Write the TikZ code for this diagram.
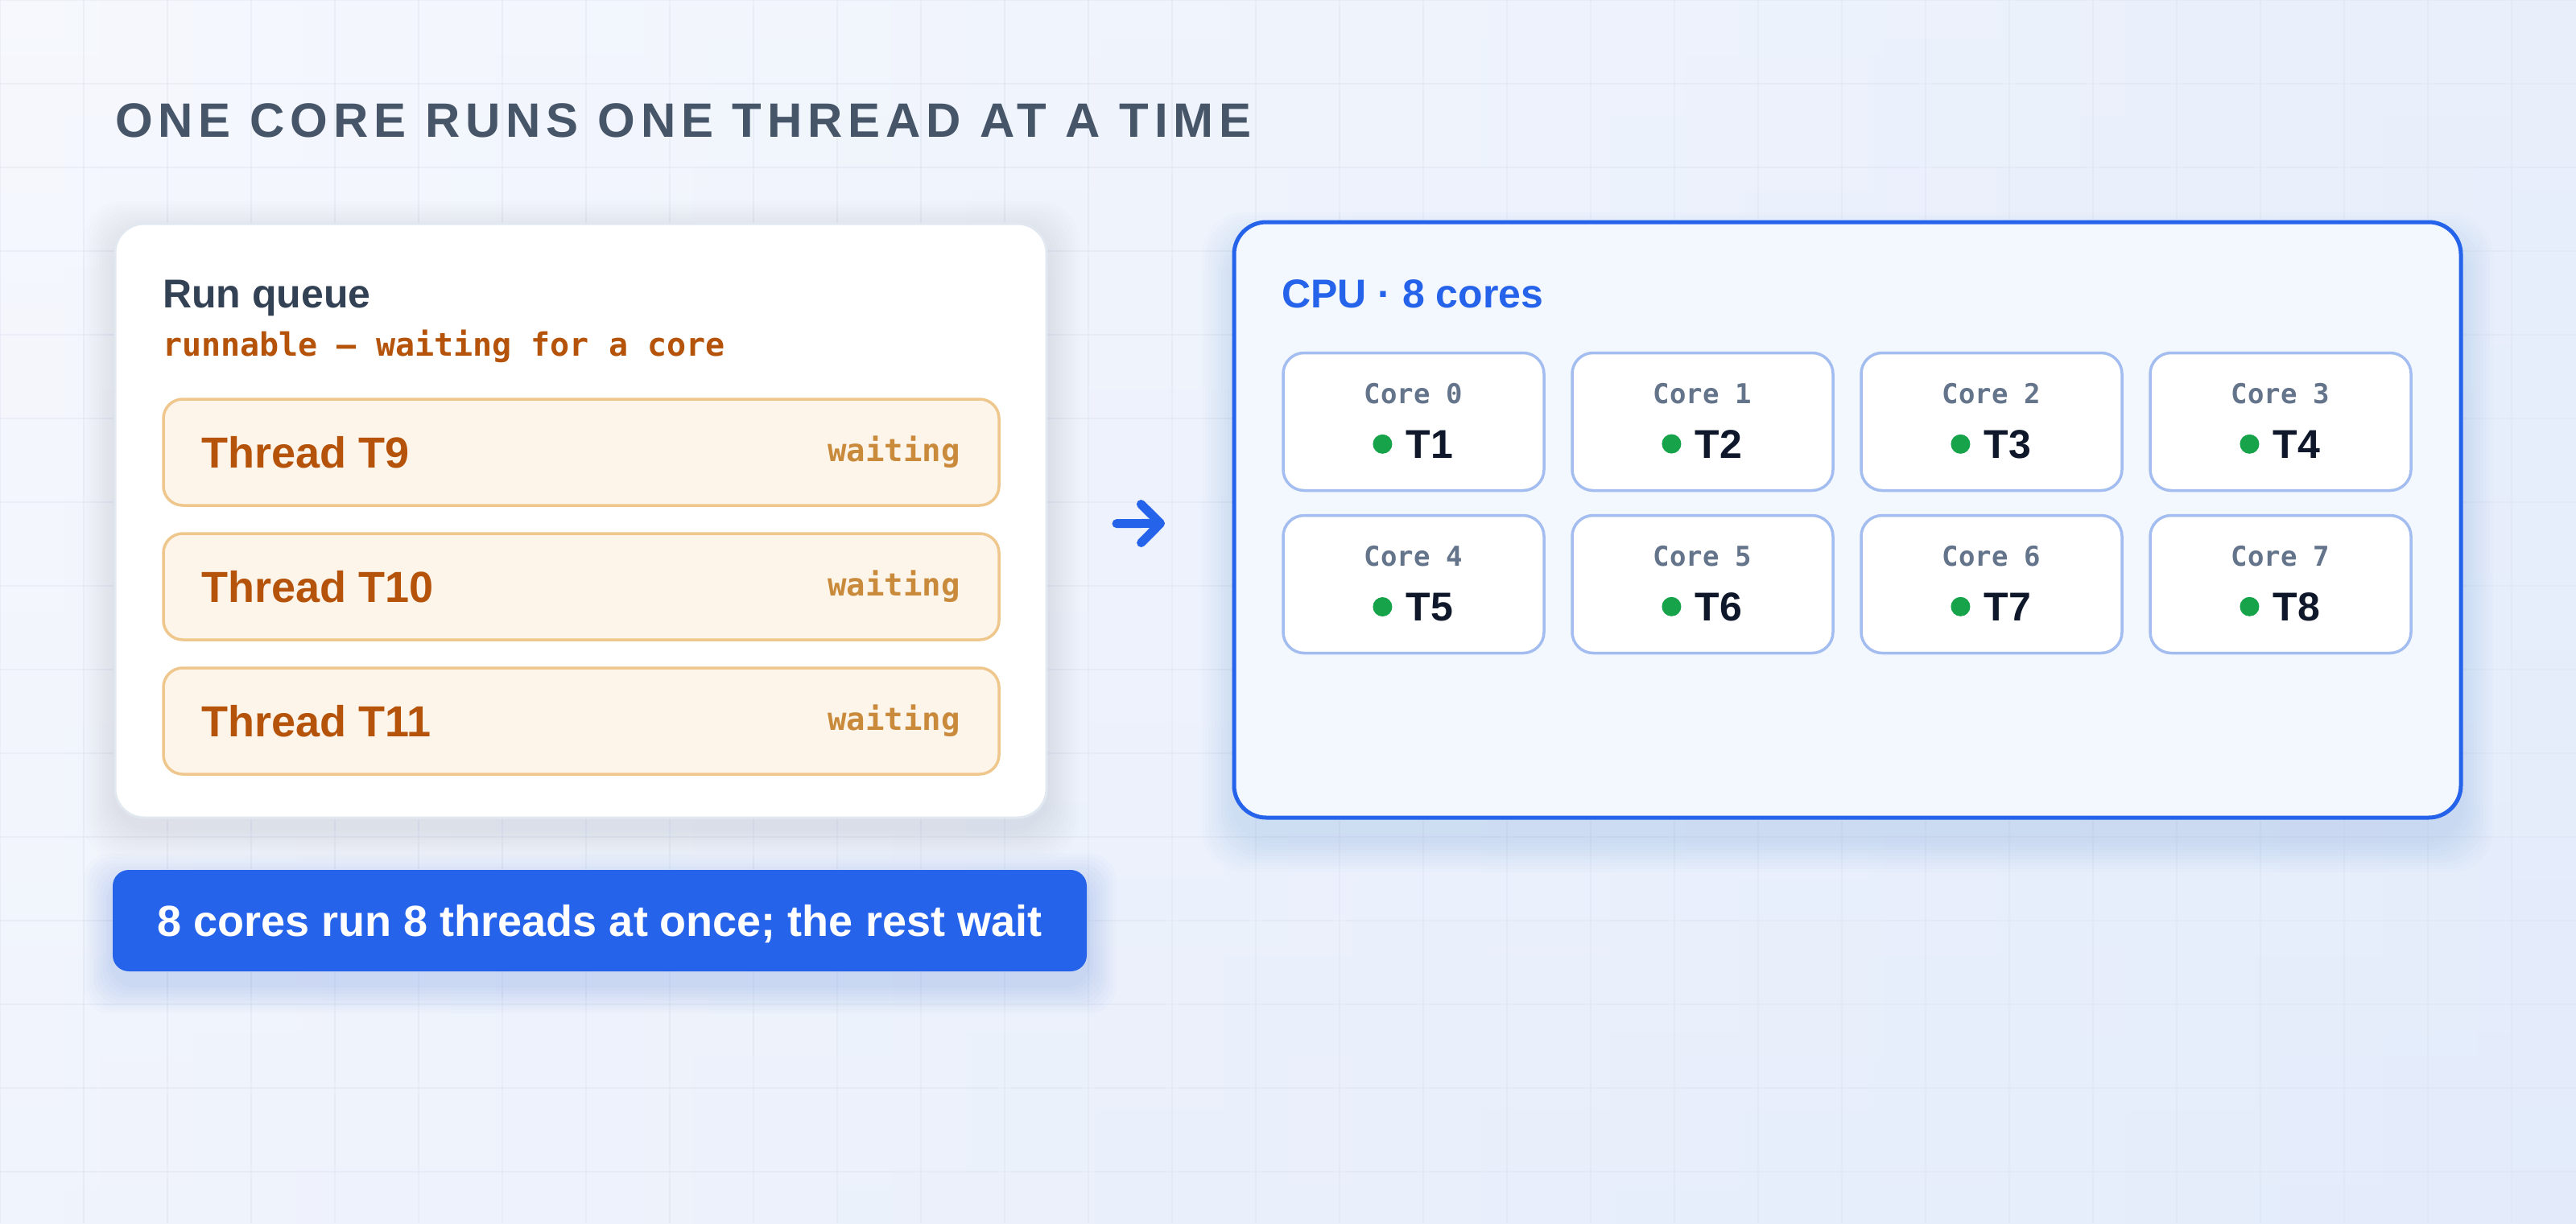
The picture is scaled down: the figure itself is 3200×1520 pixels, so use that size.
\documentclass[tikz,border=0pt]{standalone}
\usepackage{fontspec}
\setmainfont{Liberation Sans}
\setmonofont{DejaVu Sans Mono}
\newfontfamily\titlefont[LetterSpace=11.5]{Liberation Sans}
\usetikzlibrary{positioning,arrows.meta}

\definecolor{inkslate}{HTML}{475569}
\definecolor{inkdark}{HTML}{334155}
\definecolor{amberink}{HTML}{B45309}
\definecolor{amberpale}{HTML}{C98A3C}
\definecolor{amberfill}{HTML}{FDF5EA}
\definecolor{amberline}{HTML}{EFC68C}
\definecolor{cpublue}{HTML}{2563EB}
\definecolor{cpufill}{HTML}{F3F7FE}
\definecolor{coreline}{HTML}{A3BDF0}
\definecolor{coregray}{HTML}{64748B}
\definecolor{runink}{HTML}{0F172A}
\definecolor{rungreen}{HTML}{16A34A}
\definecolor{cardline}{HTML}{E2E8F0}
\definecolor{glowgray}{HTML}{94A3B8}
\definecolor{gridblue}{HTML}{DCE4F1}
\definecolor{bgleft}{HTML}{F6F8FD}
\definecolor{bgright}{HTML}{E2EBFB}
\definecolor{bgbottom}{HTML}{E6EDFB}

\newcommand\fsz[1]{\fontsize{#1}{#1}\selectfont}

\pgfdeclarelayer{backdrop}
\pgfdeclarelayer{glow}
\pgfsetlayers{backdrop,glow,main}

\tikzset{
  queuecard/.style={draw=cardline, line width=3pt, fill=white, rounded corners=36pt,
    minimum width=1157pt, minimum height=738pt, inner sep=0pt, outer sep=0pt},
  cpucard/.style={draw=cpublue, line width=5pt, fill=cpufill, rounded corners=40pt,
    minimum width=1524pt, minimum height=740pt, inner sep=0pt, outer sep=0pt},
  threadbox/.style={draw=amberline, line width=3.5pt, fill=amberfill, rounded corners=24pt,
    minimum width=1038pt, minimum height=132pt, inner sep=0pt, outer sep=0pt},
  threadname/.style={font=\bfseries\fsz{54}, text=amberink, inner sep=0pt},
  threadstate/.style={font=\ttfamily\bfseries\fsz{39}, text=amberpale, inner sep=0pt},
  corebox/.style={draw=coreline, line width=3.5pt, fill=white, rounded corners=26pt,
    minimum width=324pt, minimum height=171pt, inner sep=0pt, outer sep=0pt},
  corename/.style={font=\ttfamily\bfseries\fsz{34}, text=coregray, inner sep=0pt, anchor=base},
  runname/.style={font=\bfseries\fsz{50}, text=runink, inner sep=0pt, anchor=base},
  rundot/.style={circle, fill=rungreen, minimum size=24pt, inner sep=0pt},
  heading/.style={font=\bfseries\fsz{50}, inner sep=0pt, anchor=base west},
  note/.style={font=\ttfamily\bfseries\fsz{40}, text=amberink, inner sep=0pt, anchor=base west},
  summary/.style={fill=cpublue, rounded corners=20pt, minimum width=1210pt, minimum height=126pt,
    text depth=0pt, font=\bfseries\fsz{54}, text=white, inner sep=0pt},
  flowarrow/.style={draw=cpublue, line width=11pt, line cap=round,
    -{Straight Barb[length=24pt, width=48pt, line join=round, line cap=round]},
    shorten <=87pt, shorten >=86pt},
  gridline/.style={draw=gridblue, line width=2pt, opacity=0.45, step=104pt}
}

\begin{document}
\begin{tikzpicture}[x=1pt, y=-1pt]
  \useasboundingbox (0,0) rectangle (3200,1520);
  \begin{pgfonlayer}{backdrop}
    \shade[left color=bgleft, right color=bgright] (0,0) rectangle (3200,1520);
    \shade[top color=bgleft, bottom color=bgbottom, opacity=0.35] (0,0) rectangle (3200,1520);
    \draw[gridline] (0,1520) grid (3200,0);
  \end{pgfonlayer}

  \node[font=\titlefont\bfseries\fsz{60}, text=inkslate, inner sep=0pt, anchor=base west]
    (title) at (143,170) {ONE CORE RUNS ONE THREAD AT A TIME};

  % run queue
  \node[queuecard] (queue) at (721.5,647) {};
  \node[heading, text=inkdark] (queuetitle) at ([xshift=59pt, yshift=-104pt]queue.north west) {Run queue};
  \node[note] (queuenote) at ([xshift=59pt, yshift=-164pt]queue.north west) {runnable — waiting for a core};

  \node[threadbox] (t9) at (722,562) {};
  \node[threadname, right=47pt of t9.west] (t9name) {Thread T9};
  \node[threadstate, left=48pt of t9.east] (t9state) {waiting};
  \node[threadbox] (t10) at (722,729) {};
  \node[threadname, right=47pt of t10.west] (t10name) {Thread T10};
  \node[threadstate, left=48pt of t10.east] (t10state) {waiting};
  \node[threadbox] (t11) at (722,896) {};
  \node[threadname, right=47pt of t11.west] (t11name) {Thread T11};
  \node[threadstate, left=48pt of t11.east] (t11state) {waiting};

  \node[summary] (rest) at (745,1144) {8 cores run 8 threads at once; the rest wait};

  % cpu
  \node[cpucard] (cpu) at (2295,646) {};
  \node[heading, text=cpublue] (cputitle) at ([xshift=59pt, yshift=-106pt]cpu.north west) {CPU · 8 cores};

  \node[corebox] (core0) at (1756,524) {};
  \node[corename] (core0name) at ([yshift=23pt]core0.center) {Core 0};
  \node[runname] (run1) at ([xshift=20pt, yshift=-45pt]core0.center) {T1};
  \node[rundot, left=17pt of run1] (dot1) {};
  \node[corebox] (core1) at (2115,524) {};
  \node[corename] (core1name) at ([yshift=23pt]core1.center) {Core 1};
  \node[runname] (run2) at ([xshift=20pt, yshift=-45pt]core1.center) {T2};
  \node[rundot, left=17pt of run2] (dot2) {};
  \node[corebox] (core2) at (2474,524) {};
  \node[corename] (core2name) at ([yshift=23pt]core2.center) {Core 2};
  \node[runname] (run3) at ([xshift=20pt, yshift=-45pt]core2.center) {T3};
  \node[rundot, left=17pt of run3] (dot3) {};
  \node[corebox] (core3) at (2833,524) {};
  \node[corename] (core3name) at ([yshift=23pt]core3.center) {Core 3};
  \node[runname] (run4) at ([xshift=20pt, yshift=-45pt]core3.center) {T4};
  \node[rundot, left=17pt of run4] (dot4) {};

  \node[corebox] (core4) at (1756,726) {};
  \node[corename] (core4name) at ([yshift=23pt]core4.center) {Core 4};
  \node[runname] (run5) at ([xshift=20pt, yshift=-45pt]core4.center) {T5};
  \node[rundot, left=17pt of run5] (dot5) {};
  \node[corebox] (core5) at (2115,726) {};
  \node[corename] (core5name) at ([yshift=23pt]core5.center) {Core 5};
  \node[runname] (run6) at ([xshift=20pt, yshift=-45pt]core5.center) {T6};
  \node[rundot, left=17pt of run6] (dot6) {};
  \node[corebox] (core6) at (2474,726) {};
  \node[corename] (core6name) at ([yshift=23pt]core6.center) {Core 6};
  \node[runname] (run7) at ([xshift=20pt, yshift=-45pt]core6.center) {T7};
  \node[rundot, left=17pt of run7] (dot7) {};
  \node[corebox] (core7) at (2833,726) {};
  \node[corename] (core7name) at ([yshift=23pt]core7.center) {Core 7};
  \node[runname] (run8) at ([xshift=20pt, yshift=-45pt]core7.center) {T8};
  \node[rundot, left=17pt of run8] (dot8) {};

  % shadows
  \begin{pgfonlayer}{glow}
    \foreach \r in {4,8,...,40}
      \fill[glowgray, opacity=0.018, rounded corners=48pt]
        ([xshift=-\r*1pt, yshift=\r*1pt-12pt]queue.north west) rectangle ([xshift=\r*1pt, yshift=-\r*1pt-12pt]queue.south east);
    \foreach \r in {4,8,...,40}
      \fill[cpublue, opacity=0.011, rounded corners=52pt]
        ([xshift=-\r*1pt, yshift=\r*1pt-28pt]cpu.north west) rectangle ([xshift=\r*1pt, yshift=-\r*1pt-28pt]cpu.south east);
    \foreach \r in {4,8,...,36}
      \fill[cpublue, opacity=0.02, rounded corners=32pt]
        ([xshift=-\r*1pt, yshift=\r*1pt-16pt]rest.north west) rectangle ([xshift=\r*1pt, yshift=-\r*1pt-16pt]rest.south east);
  \end{pgfonlayer}

  \draw[flowarrow] ([yshift=-4pt]queue.east) -- ([yshift=-4pt]cpu.west);
\end{tikzpicture}
\end{document}
